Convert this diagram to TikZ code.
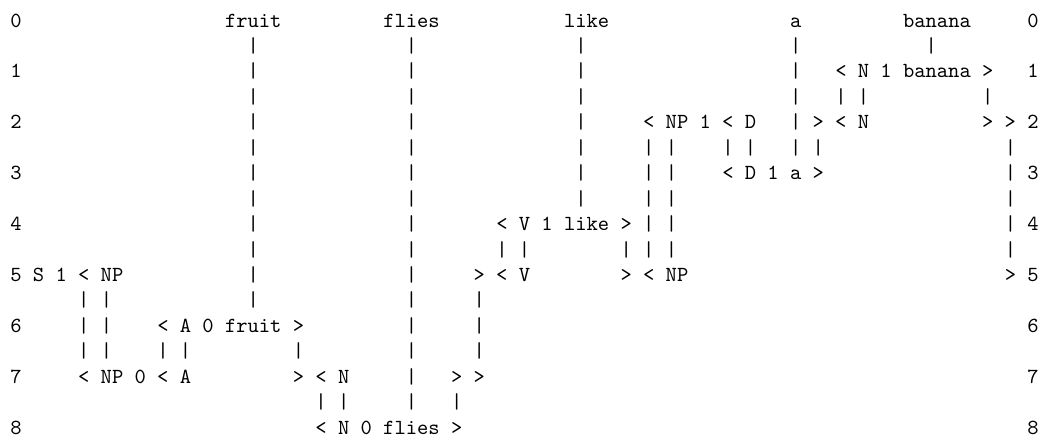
\documentclass[tikz,border=0pt]{standalone}
\newcommand\chartfont{\fontsize{10}{12}\selectfont\ttfamily}
\newcommand\ch[1]{\scalebox{1.614}{#1}}
\begin{document}
\begin{tikzpicture}[x=8.475pt,y=-19.0875pt,
  txt/.style={anchor=base west,inner sep=0pt,outer sep=0pt,font=\chartfont}]
\useasboundingbox (-1.416,-1.061) rectangle (91.77,16.385);
\foreach \r in {0,...,8}{
  \node[txt] (lnum\r) at (-.5,2*\r) {\ch{\r}};
  \node[txt] (rnum\r) at (89.5,2*\r) {\ch{\r}};
}
\foreach \c/\w in {19/fruit,33/flies,49/like,69/a,79/banana}{\node[txt] (w\w) at (\c-.5,0) {\ch{\w}};}
% edges of the chart
\foreach \L/\c/\t in {2/73/{< N 1 banana >},
  4/56/{< NP 1 < D},4/71/{> < N},4/86/{> >},
  6/63/{< D 1 a >},
  8/43/{< V 1 like >},
  10/2/{S 1 < NP},10/41/{> < V},10/54/{> < NP},10/88/{>},
  12/13/{< A 0 fruit >},
  14/6/{< NP 0 < A},14/25/{> < N},14/39/{> >},
  16/27/{< N 0 flies >}}{\node[txt] (e\L-\c) at (\c-.5,\L) {\ch{\t}};}
% the bars
\foreach \L/\cols in {1/{21,35,50,69,81},2/{21,35,50,69},
  3/{21,35,50,69,73,75,86},4/{21,35,50,69},
  5/{21,35,50,56,58,63,65,69,71,88},6/{21,35,50,56,58,88},
  7/{21,35,50,56,58,88},8/{21,35,56,58,88},
  9/{21,35,43,45,54,56,58,88},10/{21,35},
  11/{6,8,21,35,41},12/{6,8,35,41},13/{6,8,13,15,25,35,41},
  14/{35},15/{27,29,35,39}}{
  \foreach \c in \cols {\node[txt] (bar\L-\c) at (\c-.5,\L) {\ch{|}};}
}
\end{tikzpicture}
\end{document}
